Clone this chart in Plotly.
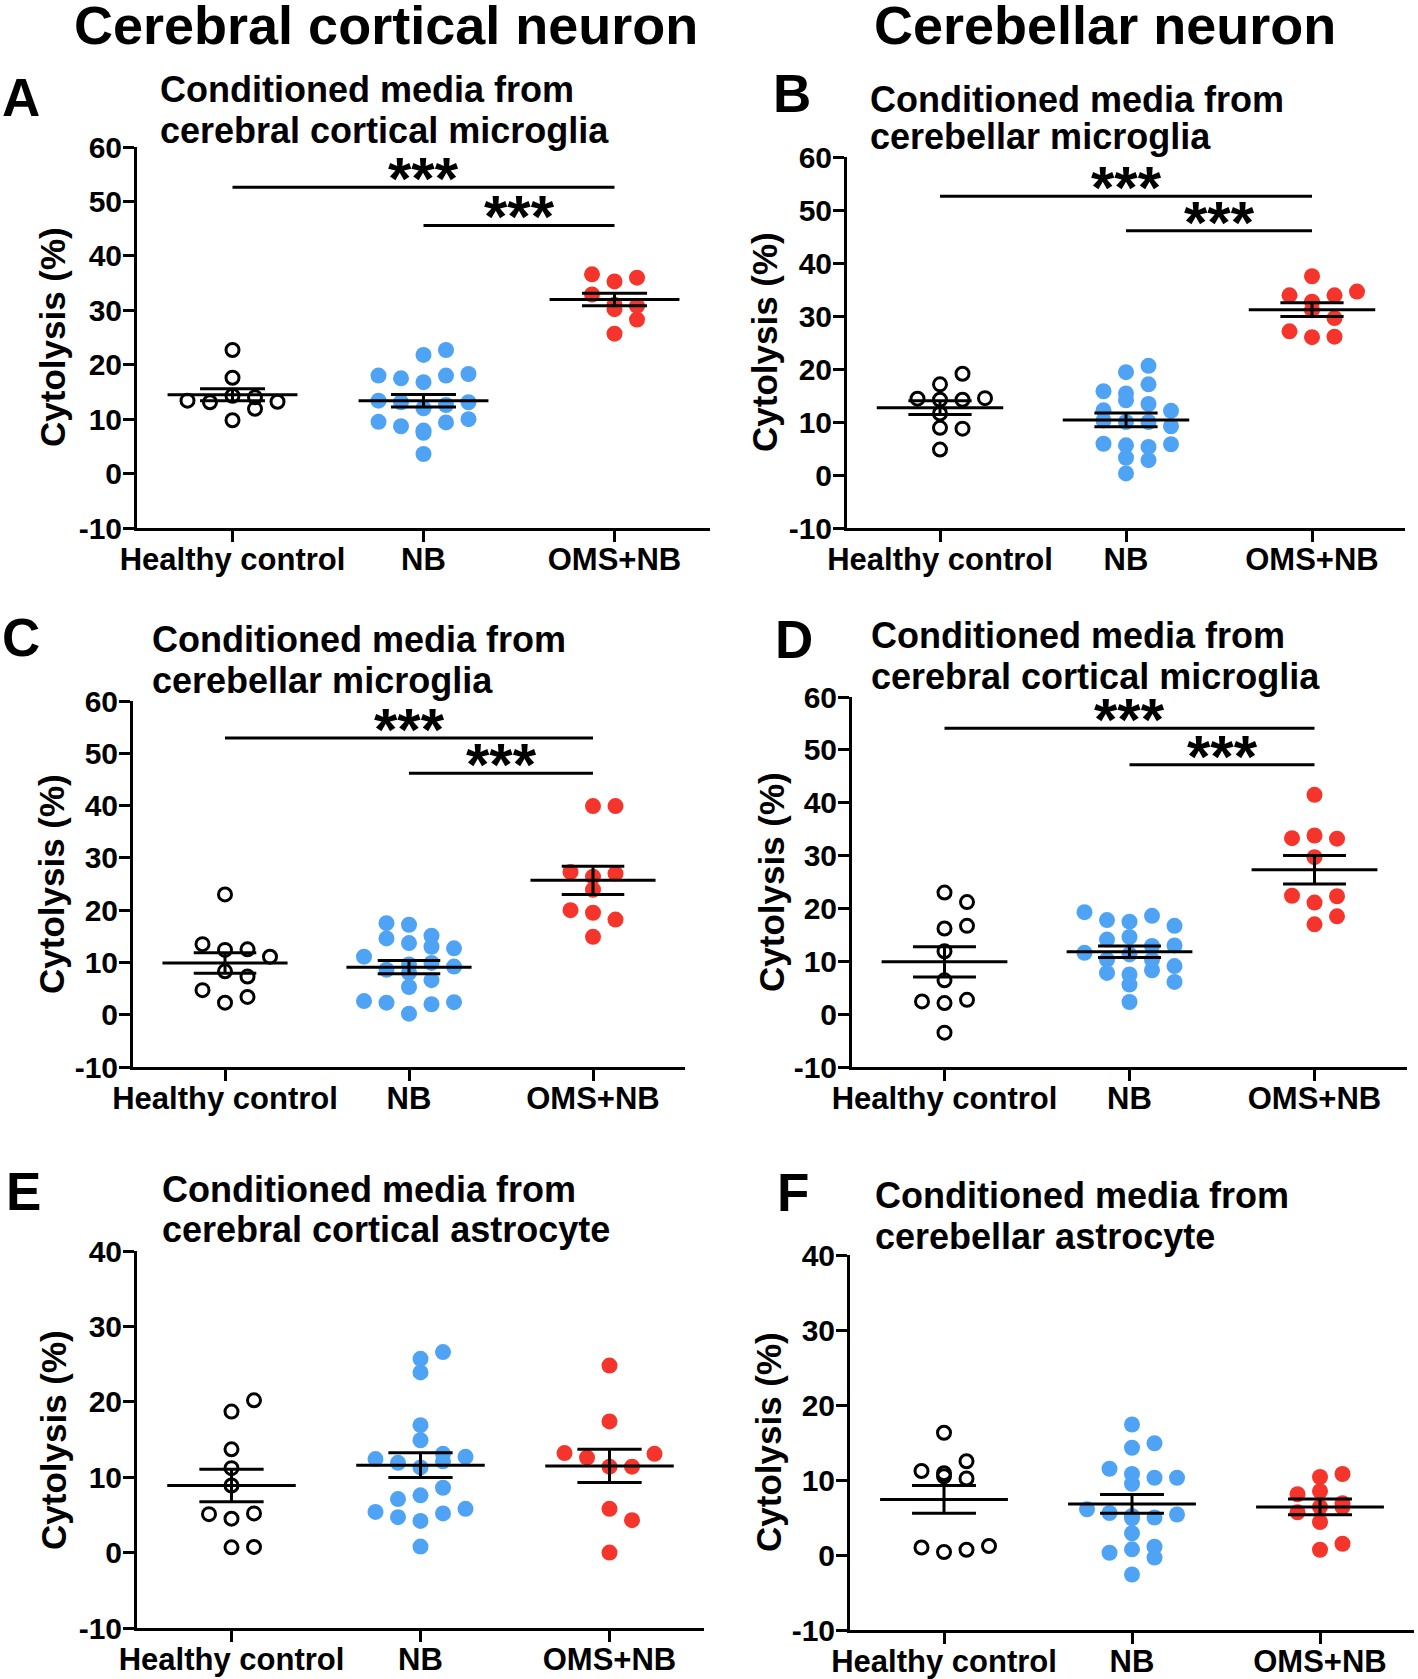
import plotly.graph_objects as go

W, H = 1418, 1679
FONT = "Liberation Sans"

categories = ["Healthy control", "NB", "OMS+NB"]

# ---------------- data ----------------
A_healthy = [22.7, 17.6, 13.4, 13.1, 14.3, 14.0, 13.2, 9.8, 11.9]
A_nb = [21.8, 22.7, 18.0, 17.5, 16.8, 18.0, 18.3, 13.4, 13.1, 12.0, 12.6, 13.1,
        9.5, 8.7, 7.9, 9.4, 10.0, 7.5, 3.6]
A_oms = [36.6, 35.3, 36.0, 32.9, 31.0, 30.2, 30.8, 25.7, 28.3]
A_mean = [14.5, 13.4, 32.0]
A_sem = [1.1, 1.15, 1.15]
A_sig = [52.6, 45.6]

B_healthy = [17.1, 19.1, 14.4, 14.2, 14.2, 14.5, 11.6, 8.9, 8.75, 4.8]
B_nb = [19.4, 20.6, 15.8, 15.4, 17.1, 12.2, 14.1, 13.4, 12.1, 10.3, 10.0, 10.0,
        9.2, 5.9, 5.6, 5.3, 5.8, 3.25, 0.3, 2.8]
B_oms = [37.5, 33.9, 32.7, 33.9, 34.6, 31.1, 29.6, 27.1, 26.0, 26.1]
B_mean = [12.7, 10.4, 31.2]
B_sem = [1.3, 1.3, 1.3]
B_sig = [52.6, 46.1]

C_healthy = [23.0, 13.5, 12.4, 12.5, 11.1, 8.3, 7.3, 4.7, 2.3, 3.4]
C_nb = [17.5, 17.2, 15.1, 14.6, 13.7, 13.0, 12.7, 11.1, 8.6, 9.6, 9.9, 8.0, 9.2,
        6.6, 5.3, 2.6, 2.3, 0.2, 2.0, 2.4]
C_oms = [39.9, 39.9, 27.3, 26.4, 27.0, 23.9, 20.0, 19.5, 18.2, 14.9]
C_mean = [9.9, 9.1, 25.7]
C_sem = [1.95, 1.25, 2.7]
C_sig = [52.9, 46.2]

D_healthy = [23.0, 21.2, 16.2, 16.7, 11.9, 6.4, 2.4, 2.1, 2.7, -3.5]
D_nb = [19.3, 17.8, 17.5, 18.6, 16.7, 14.1, 14.6, 11.6, 12.9, 13.0, 10.3, 11.3,
        10.3, 9.1, 7.8, 7.5, 8.3, 6.1, 5.6, 2.3]
D_oms = [41.5, 33.3, 33.8, 33.2, 29.7, 22.4, 21.1, 22.3, 17.0, 18.5]
D_mean = [9.9, 11.8, 27.3]
D_sem = [2.85, 1.1, 2.7]
D_sig = [54.1, 47.2]

E_healthy = [18.7, 20.2, 13.7, 11.2, 8.9, 5.1, 4.5, 5.2, 0.7, 0.75]
E_nb = [25.7, 26.6, 23.9, 16.9, 14.9, 13.1, 12.4, 11.9, 11.3, 12.1, 12.7, 7.1,
        7.6, 8.6, 5.4, 4.7, 4.2, 5.2, 5.8, 0.8]
E_oms = [24.8, 17.4, 13.2, 12.6, 11.4, 11.4, 13.1, 5.8, 4.3, 0.0]
E_mean = [8.9, 11.6, 11.5]
E_sem = [2.15, 1.65, 2.2]

F_healthy = [16.3, 11.2, 10.5, 10.2, 10.9, 12.5, 1.0, 0.4, 0.7, 1.2]
F_nb = [17.4, 14.3, 14.9, 11.5, 10.8, 10.3, 9.5, 10.3, 6.1, 5.6, 5.2, 4.9, 5.0,
        5.4, 2.9, 1.1, 0.3, 0.75, -0.35, -2.6]
F_oms = [10.4, 10.8, 8.1, 8.5, 6.9, 5.7, 6.4, 6.4, 4.4, 0.7, 1.5]
F_mean = [7.4, 6.8, 6.4]
F_sem = [1.85, 1.25, 1.05]

ticks_60 = [-10, 0, 10, 20, 30, 40, 50, 60]
ticks_40 = [-10, 0, 10, 20, 30, 40]

header_left = "Cerebral cortical neuron"
header_right = "Cerebellar neuron"
y_title = "Cytolysis (%)"
line1 = "Conditioned media from"
sub_A = "cerebral cortical microglia"
sub_B = "cerebellar microglia"
sub_C = "cerebellar microglia"
sub_D = "cerebral cortical microglia"
sub_E = "cerebral cortical astrocyte"
sub_F = "cerebellar astrocyte"
stars = "***"

# ---------------- layout (pixels in the 1418x1679 page) ----------------
panels = [
    dict(letter="A", groups=(A_healthy, A_nb, A_oms), mean=A_mean, sem=A_sem, sig=A_sig,
         ticks=ticks_60, box=(137, 710, 147, 528), sub=sub_A,
         title_x=158, title_y=(90, 130), letter_xy=(0, 97), ytitle_xy=(52, 337)),
    dict(letter="B", groups=(B_healthy, B_nb, B_oms), mean=B_mean, sem=B_sem, sig=B_sig,
         ticks=ticks_60, box=(847, 1405, 157, 528), sub=sub_B,
         title_x=868, title_y=(99, 137), letter_xy=(771, 93), ytitle_xy=(764, 342)),
    dict(letter="C", groups=(C_healthy, C_nb, C_oms), mean=C_mean, sem=C_sem, sig=C_sig,
         ticks=ticks_60, box=(133, 685, 701, 1067), sub=sub_C,
         title_x=150, title_y=(640, 680), letter_xy=(0, 637), ytitle_xy=(51, 884)),
    dict(letter="D", groups=(D_healthy, D_nb, D_oms), mean=D_mean, sem=D_sem, sig=D_sig,
         ticks=ticks_60, box=(852, 1407, 697, 1067), sub=sub_D,
         title_x=869, title_y=(636, 676), letter_xy=(773, 640), ytitle_xy=(771, 882)),
    dict(letter="E", groups=(E_healthy, E_nb, E_oms), mean=E_mean, sem=E_sem, sig=None,
         ticks=ticks_40, box=(137, 704, 1251, 1628), sub=sub_E,
         title_x=160, title_y=(1189, 1229), letter_xy=(4, 1191), ytitle_xy=(53, 1440)),
    dict(letter="F", groups=(F_healthy, F_nb, F_oms), mean=F_mean, sem=F_sem, sig=None,
         ticks=ticks_40, box=(850, 1414, 1255, 1630), sub=sub_F,
         title_x=873, title_y=(1195, 1236), letter_xy=(775, 1192), ytitle_xy=(768, 1442)),
]

COLORS = ["black", "#4FA3F5", "#F5352B"]
COL_PX = 22.5      # horizontal spacing of swarm columns (px)
ROW_PX = 14        # values closer than this (px) share a swarm row
MEAN_HALF = 0.34
CAP_HALF = 0.17


def swarm(values, px_per_unit, col_units, maxcols=5):
    n = len(values)
    order = sorted(range(n), key=lambda i: -values[i])
    rows, cur = [], []
    for i in order:
        if cur and ((values[cur[0]] - values[i]) * px_per_unit > ROW_PX or len(cur) >= maxcols):
            rows.append(cur)
            cur = []
        cur.append(i)
    if cur:
        rows.append(cur)
    seq = [0, 1, -1, 2, -2, 3, -3]
    offs = [0.0] * n
    for row in rows:
        o = sorted(seq[:len(row)])
        for k, i in enumerate(sorted(row)):
            offs[i] = o[k] * col_units
    return offs


def px(x):
    return x / W


def py(y):
    return 1 - y / H


def bold(size):
    return dict(family=FONT, size=size, color="black", weight="bold")


fig = go.Figure()
annotations = []

for k, p in enumerate(panels, start=1):
    xa = "x" if k == 1 else f"x{k}"
    ya = "y" if k == 1 else f"y{k}"
    x0, x1, y0, y1 = p["box"]
    ymin, ymax = p["ticks"][0], p["ticks"][-1]
    px_per_cat = (x1 - x0) / 3.0
    px_per_unit = (y1 - y0) / (ymax - ymin)
    col_units = COL_PX / px_per_cat

    # points
    for g, vals in enumerate(p["groups"]):
        offs = swarm(vals, px_per_unit, col_units)
        xs = [g + o for o in offs]
        if g == 0:
            marker = dict(symbol="circle-open", size=13, color="black",
                          line=dict(width=3, color="black"))
        else:
            marker = dict(symbol="circle", size=16, color=COLORS[g], line=dict(width=0))
        fig.add_trace(go.Scatter(x=xs, y=vals, mode="markers", marker=marker,
                                 xaxis=xa, yaxis=ya, hoverinfo="skip"))

    # mean +/- SEM and significance bars
    lx, ly = [], []
    for g in range(3):
        m, s = p["mean"][g], p["sem"][g]
        lx += [g - MEAN_HALF, g + MEAN_HALF, None,
               g - CAP_HALF, g + CAP_HALF, None,
               g - CAP_HALF, g + CAP_HALF, None,
               g, g, None]
        ly += [m, m, None, m + s, m + s, None, m - s, m - s, None, m + s, m - s, None]
    if p["sig"] is not None:
        hi, lo = p["sig"]
        lx += [0, 2, None, 1, 2, None]
        ly += [hi, hi, None, lo, lo, None]
        for sx, sy in ((1, hi), (1.5, lo)):
            annotations.append(dict(x=sx, y=sy, xref=xa, yref=ya, text=stars, showarrow=False,
                                    xanchor="center", yanchor="bottom", yshift=-27,
                                    font=bold(60)))
    fig.add_trace(go.Scatter(x=lx, y=ly, mode="lines", line=dict(color="black", width=3),
                             xaxis=xa, yaxis=ya, hoverinfo="skip"))

    axis_common = dict(showline=True, linewidth=3, linecolor="black", ticks="outside",
                       ticklen=11, tickwidth=3, tickcolor="black", showgrid=False,
                       zeroline=False, fixedrange=True, automargin=False)
    fig.update_layout(**{
        ("xaxis" if k == 1 else f"xaxis{k}"): dict(
            domain=[px(x0), px(x1)], range=[-0.5, 2.5], anchor=ya,
            tickvals=[0, 1, 2], ticktext=categories, tickfont=bold(31),
            ticklabelstandoff=-9, **axis_common),
        ("yaxis" if k == 1 else f"yaxis{k}"): dict(
            domain=[py(y1), py(y0)], range=[ymin, ymax], anchor=xa,
            tickvals=p["ticks"], ticktext=[str(t) for t in p["ticks"]],
            tickfont=bold(30), ticklabelstandoff=-5, **axis_common),
    })

    # texts
    annotations.append(dict(x=px(p["title_x"]), y=py(p["title_y"][0]), xref="paper", yref="paper",
                            text=line1, showarrow=False, xanchor="left", yanchor="middle",
                            font=bold(36)))
    annotations.append(dict(x=px(p["title_x"]), y=py(p["title_y"][1]), xref="paper", yref="paper",
                            text=p["sub"], showarrow=False, xanchor="left", yanchor="middle",
                            font=bold(36)))
    annotations.append(dict(x=px(p["letter_xy"][0]), y=py(p["letter_xy"][1]), xref="paper",
                            yref="paper", text=p["letter"], showarrow=False, xanchor="left",
                            yanchor="middle", font=bold(53)))
    annotations.append(dict(x=px(p["ytitle_xy"][0]), y=py(p["ytitle_xy"][1]), xref="paper",
                            yref="paper", text=y_title, showarrow=False, textangle=-90,
                            xanchor="center", yanchor="middle", font=bold(35)))

annotations.append(dict(x=px(386), y=py(25), xref="paper", yref="paper", text=header_left,
                        showarrow=False, xanchor="center", yanchor="middle", font=bold(54)))
annotations.append(dict(x=px(1105), y=py(25), xref="paper", yref="paper", text=header_right,
                        showarrow=False, xanchor="center", yanchor="middle", font=bold(54)))

fig.update_layout(width=W, height=H, margin=dict(l=0, r=0, t=0, b=0),
                  paper_bgcolor="white", plot_bgcolor="white", showlegend=False,
                  annotations=annotations)

fig.write_html("out.html", config={"displayModeBar": False},
               post_script="document.body.style.margin='0';document.body.style.overflow='hidden';")
